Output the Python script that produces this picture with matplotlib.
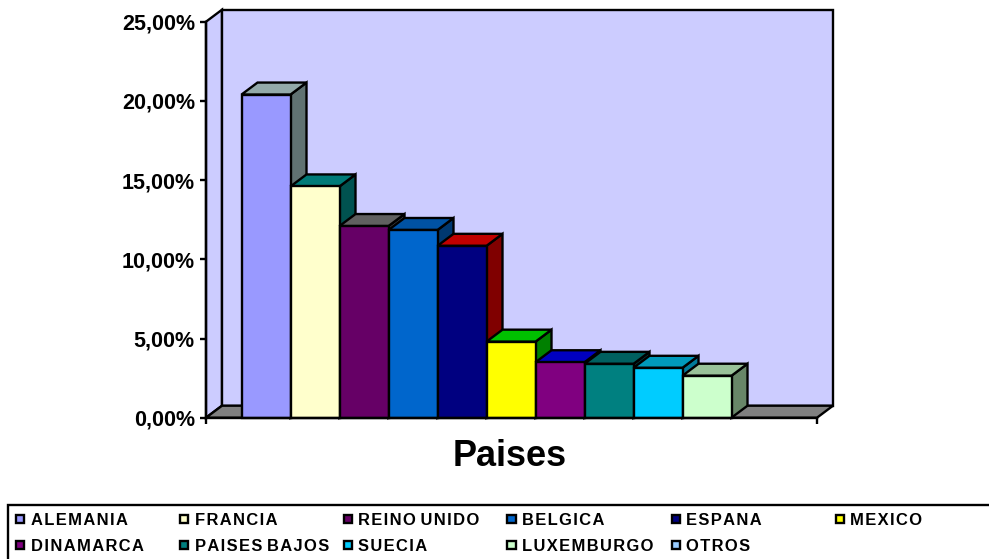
import matplotlib
matplotlib.use('Agg')
import matplotlib.pyplot as plt
from matplotlib.patches import Polygon, Rectangle

paises = ['ALEMANIA', 'FRANCIA', 'REINO UNIDO', 'BELGICA', 'ESPANA', 'MEXICO',
          'DINAMARCA', 'PAISES BAJOS', 'SUECIA', 'LUXEMBURGO', 'OTROS']
valores = [20.4, 14.6, 12.1, 11.85, 10.85, 4.8, 3.5, 3.4, 3.15, 2.65, 0.0]
colores = ['#9999FF', '#FFFFCC', '#660066', '#0066CC', '#000080', '#FFFF00',
           '#800080', '#008080', '#00CCFF', '#CCFFCC', '#99CCFF']
arriba = ['#93A9A9', '#007A78', '#606060', '#0052A3', '#C00000', '#00C000',
          '#0000C0', '#006060', '#0099BB', '#99C299', '#7AA3CC']
lado = ['#607272', '#005250', '#404040', '#003870', '#800000', '#008000',
        '#000080', '#004040', '#007A99', '#688668', '#527A99']
ticks = [0, 5, 10, 15, 20, 25]
tick_labels = ['0,00%', '5,00%', '10,00%', '15,00%', '20,00%', '25,00%']

plt.rcParams['font.family'] = ['Liberation Sans', 'DejaVu Sans']
plt.rcParams['font.weight'] = 'bold'

W, H = 989, 559
fig = plt.figure(figsize=(W / 100, H / 100), dpi=100)

# plano frontal del grafico, en pixeles
x0, x1, y0, y1 = 206, 817, 417.7, 21.7
ax = fig.add_axes([x0 / W, 1 - y0 / H, (x1 - x0) / W, (y0 - y1) / H])
ancho = 49.0
ax.set_xlim(-35.5 / ancho, (x1 - x0 - 35.5) / ancho)
ax.set_ylim(0, 25)

# profundidad 3D en unidades de datos
dx = 16 / ancho
dy = 12 / ((y0 - y1) / 25)
xa, xb = ax.get_xlim()
lw = 1.7


def poligono(puntos, color, z):
    ax.add_patch(Polygon(puntos, closed=True, facecolor=color, edgecolor='black',
                         linewidth=lw, joinstyle='miter', clip_on=False, zorder=z))


def espaciado(nombre):
    # separa las letras de cada palabra con un espacio muy fino
    return ' '.join('\u200a'.join(p) for p in nombre.split(' '))


# paredes y suelo
poligono([(xa, 0), (xa + dx, dy), (xa + dx, 25 + dy), (xa, 25)], '#CCCCFF', 1)
poligono([(xa + dx, dy), (xb + dx, dy), (xb + dx, 25 + dy), (xa + dx, 25 + dy)], '#CCCCFF', 1)
poligono([(xa, 0), (xb, 0), (xb + dx, dy), (xa + dx, dy)], '#808080', 1)

# barras de izquierda a derecha, cada una tapa el lado de la anterior
for i, v in enumerate(valores):
    if v <= 0:
        continue
    z = 2 + i
    poligono([(i + 1, 0), (i + 1 + dx, dy), (i + 1 + dx, v + dy), (i + 1, v)], lado[i], z)
    poligono([(i, v), (i + dx, v + dy), (i + 1 + dx, v + dy), (i + 1, v)], arriba[i], z)
    poligono([(i, 0), (i + 1, 0), (i + 1, v), (i, v)], colores[i], z)

for s in ['top', 'right']:
    ax.spines[s].set_visible(False)
for s in ['left', 'bottom']:
    ax.spines[s].set_linewidth(lw)
    ax.spines[s].set_zorder(30)
ax.set_xticks([xa, xb])
ax.set_xticklabels([])
ax.set_yticks(ticks)
ax.set_yticklabels(tick_labels, fontsize=15.5, fontweight='bold')
ax.tick_params(axis='both', length=4, width=lw, pad=4)
ax.patch.set_visible(False)

fig.text(510 / W, 1 - 457 / H, 'Paises', fontsize=26, fontweight='bold',
         ha='center', va='center')

# leyenda en dos filas, recuadro cortado por el borde derecho e inferior
fig.add_artist(Rectangle((8 / W, -0.05), 1.05, 1.05 - 505 / H, transform=fig.transFigure,
                         facecolor='white', edgecolor='black', linewidth=lw))
col_x = [16, 180, 343.5, 507.5, 671.5, 835.5]
fila_y = [519, 545]
for i, nombre in enumerate(paises):
    cx = col_x[i % 6]
    cy = fila_y[i // 6]
    fig.add_artist(Rectangle((cx / W, 1 - (cy + 4) / H), 8 / W, 8 / H, transform=fig.transFigure,
                             facecolor=colores[i], edgecolor='black', linewidth=lw))
    fig.text((cx + 15) / W, 1 - cy / H, espaciado(nombre), fontsize=11.9, fontweight='bold',
             ha='left', va='center_baseline')

fig.savefig('out.png', dpi=100)
